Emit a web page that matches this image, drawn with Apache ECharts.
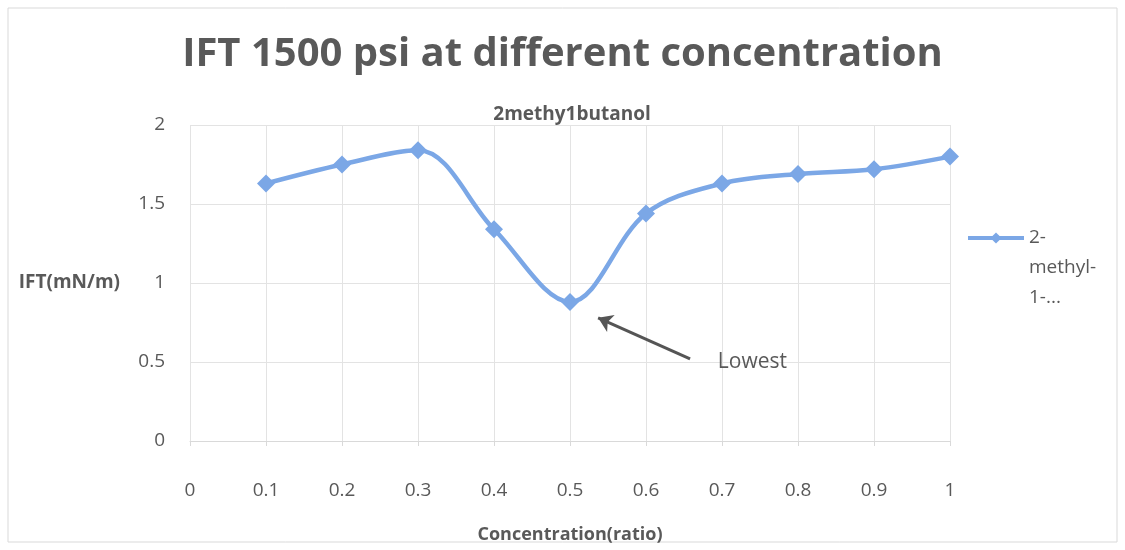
<!DOCTYPE html>
<html>
<head>
<meta charset="utf-8">
<script src="https://cdn.jsdelivr.net/npm/echarts@6/dist/echarts.min.js"></script>
<style>
  html, body { margin: 0; padding: 0; background: #fff; }
  #chart { width: 1125px; height: 550px; }
</style>
</head>
<body>
<div id="chart"></div>
<script>
// data
const concentration = [0.1, 0.2, 0.3, 0.4, 0.5, 0.6, 0.7, 0.8, 0.9, 1];
const ift = [1.63, 1.75, 1.84, 1.34, 0.88, 1.44, 1.63, 1.69, 1.72, 1.80];
const seriesName = '2-\nmethyl-\n1-...';
// annotation arrow (data space): start, end
const arrowFrom = [0.658, 0.52];
const arrowTo = [0.537, 0.78];
const noteAt = [0.74, 0.5];

const font = '"Open Sans", sans-serif';
const textColor = '#595959';
const lineColor = '#7ba7e6';

const chart = echarts.init(document.getElementById('chart'));
const option = {
  animation: false,
  textStyle: { fontFamily: font },
  title: [
    {
      text: 'IFT 1500 psi at different concentration',
      left: 'center',
      top: 30,
      textStyle: { fontSize: 40, fontWeight: 'bold', color: textColor, fontFamily: font }
    },
    {
      text: '2methy1butanol',
      left: 567,
      textAlign: 'center',
      top: 100,
      textStyle: { fontSize: 19, fontWeight: 'bold', color: textColor, fontFamily: font }
    }
  ],
  graphic: [
    {
      type: 'rect',
      shape: { x: 8, y: 8, width: 1109, height: 534 },
      style: { fill: 'none', stroke: '#d9d9d9', lineWidth: 1 },
      silent: true
    }
  ],
  legend: {
    left: 966,
    top: 163,
    padding: 0,
    orient: 'vertical',
    itemWidth: 56,
    itemHeight: 14,
    itemGap: 4,
    lineStyle: { width: 4 },
    textStyle: { fontSize: 19, color: textColor, lineHeight: 30, fontFamily: font },
    // blank lines on top so the first line sits level with the marker
    formatter: name => ' \n \n' + name,
    data: [seriesName]
  },
  grid: { left: 190, right: 175, top: 125, bottom: 109 },
  xAxis: {
    type: 'value',
    min: 0,
    max: 1,
    interval: 0.1,
    name: 'Concentration(ratio)',
    nameLocation: 'middle',
    nameGap: 85,
    nameTextStyle: { fontSize: 18, fontWeight: 'bold', color: textColor },
    axisLine: { show: true, lineStyle: { color: '#d9d9d9' } },
    axisTick: { show: true, length: 5, lineStyle: { color: '#d9d9d9' } },
    axisLabel: {
      margin: 40,
      fontSize: 19,
      color: textColor,
      formatter: v => String(Math.round(v * 10) / 10)
    },
    splitLine: { show: true, lineStyle: { color: '#e3e3e3' } }
  },
  yAxis: {
    type: 'value',
    min: 0,
    max: 2,
    interval: 0.5,
    name: 'IFT(mN/m)',
    nameLocation: 'middle',
    nameRotate: 0,
    nameGap: 70,
    nameTextStyle: { fontSize: 19, fontWeight: 'bold', color: textColor },
    axisLine: { show: false },
    axisTick: { show: false },
    axisLabel: { margin: 25, fontSize: 19, color: textColor },
    splitLine: { show: true, lineStyle: { color: '#e3e3e3' } }
  },
  series: [
    {
      name: seriesName,
      type: 'line',
      smooth: 0.35,
      data: concentration.map((c, i) => [c, ift[i]]),
      symbol: 'diamond',
      symbolSize: 18,
      lineStyle: { color: lineColor, width: 4.5 },
      itemStyle: { color: lineColor },
      markLine: {
        silent: true,
        symbol: ['none', 'arrow'],
        symbolSize: 14,
        lineStyle: { color: '#555', width: 3, type: 'solid' },
        label: { show: false },
        data: [[{ coord: arrowFrom }, { coord: arrowTo }]]
      },
      markPoint: {
        silent: true,
        symbol: 'circle',
        symbolSize: 0,
        label: {
          show: true,
          formatter: 'Lowest',
          fontSize: 21,
          color: textColor,
          fontFamily: font
        },
        data: [{ coord: noteAt }]
      }
    }
  ]
};
chart.setOption(option);
</script>
</body>
</html>
